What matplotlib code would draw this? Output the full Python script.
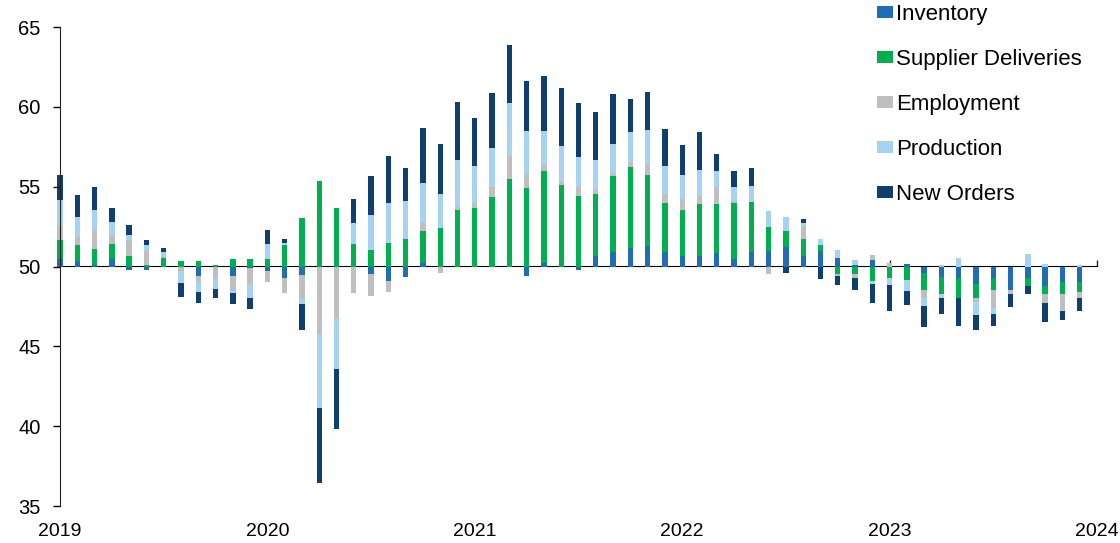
import numpy as np
import matplotlib
matplotlib.use("Agg")
import matplotlib.pyplot as plt
from matplotlib.patches import Patch

# monthly contributions (index points vs 50), Jan 2019 .. Dec 2023
year_labels = ["2019", "2020", "2021", "2022", "2023", "2024"]

inventory = [
    0.5, 0.35, 0.1, 0.45, -0.2, -0.2, 0.0, 0.0, -0.6, 0.0, -0.6, -0.1,
    -0.3, -0.7, -0.55, 0.0, 0.0, 0.0, -0.45, -0.9, -0.65, 0.2, 0.0, 0.0,
    0.0, 0.0, 0.0, -0.6, 0.2, 0.0, -0.25, 0.65, 0.9, 1.15, 1.3, 0.9,
    0.65, 0.65, 0.85, 0.45, 0.9, 1.0, 1.25, 0.65, 0.95, 0.55, 0.1, 0.4,
    0.0, 0.15, -0.4, -0.65, -0.75, -1.1, -0.75, -1.45, -0.75, -1.25, -1.0, -1.0,
]
supplier_deliveries = [
    1.15, 1.0, 1.0, 0.95, 0.65, 0.1, 0.55, 0.35, 0.35, 0.1, 0.45, 0.5,
    0.5, 1.35, 3.05, 5.35, 3.65, 1.4, 1.05, 1.5, 1.7, 2.05, 2.4, 3.55,
    3.65, 4.35, 5.5, 4.9, 5.75, 5.1, 4.4, 3.9, 4.75, 5.1, 4.45, 3.05,
    2.9, 3.25, 3.05, 3.5, 3.15, 1.5, 1.0, 1.05, 0.4, -0.5, -0.5, -0.9,
    -0.75, -0.85, -1.05, -1.1, -1.25, -0.85, -0.75, 0.0, -0.45, -0.45, -0.7, -0.6,
]
employment = [
    0.9, 0.5, 1.2, 0.55, 0.95, 0.85, 0.1, -0.3, -0.3, -0.7, -0.95, -1.0,
    -0.7, -0.95, -1.5, -4.25, -3.2, -1.65, -1.4, -0.7, 0.0, 0.5, -0.4, 0.2,
    0.3, 0.65, 1.4, 0.9, 0.4, 0.25, 0.6, 0.25, 0.2, 0.3, 0.7, 0.6,
    0.65, 0.5, 1.05, 0.15, 0.0, -0.45, 0.0, 0.85, 0.0, -0.1, -0.2, 0.3,
    0.25, 0.0, -0.5, 0.1, 0.0, -0.25, -1.1, -0.25, 0.0, -0.6, -1.0, -0.4,
]
production = [
    1.6, 1.25, 1.25, 0.85, 0.4, 0.4, 0.25, -0.75, -0.7, -0.7, -0.1, -0.85,
    0.9, 0.1, -0.3, -4.6, -3.25, 1.3, 2.2, 2.45, 2.4, 2.45, 2.15, 2.9,
    2.35, 2.45, 3.35, 2.7, 2.15, 2.2, 1.85, 1.85, 1.85, 1.9, 2.1, 1.75,
    1.5, 1.65, 1.05, 0.9, 1.0, 1.0, 0.85, 0.2, 0.4, 0.5, 0.3, -0.2,
    -0.4, -0.7, -0.5, -0.2, 0.55, -0.85, -0.4, 0.0, 0.8, 0.15, -0.1, 0.1,
]
new_orders = [
    1.6, 1.35, 1.45, 0.85, 0.6, 0.3, 0.25, -0.85, -0.7, -0.6, -0.7, -0.7,
    0.9, 0.3, -1.65, -4.7, -3.7, 1.55, 2.4, 3.0, 2.1, 3.5, 3.1, 3.65,
    3.0, 3.4, 3.6, 3.1, 3.4, 3.6, 3.4, 3.0, 3.1, 2.05, 2.35, 2.3,
    1.9, 2.4, 1.05, 1.0, 1.15, 0.0, -0.4, 0.25, -0.77, -0.55, -0.8, -1.2,
    -1.65, -0.85, -1.35, -1.05, -1.7, -0.95, -0.7, -0.85, -0.5, -1.15, -0.55, -0.8,
]

# stacked outward from the 50 line in this order
series = [
    ("Inventory", inventory, "#1F6DB5"),
    ("Supplier Deliveries", supplier_deliveries, "#00B050"),
    ("Employment", employment, "#BFBFBF"),
    ("Production", production, "#A7D3F3"),
    ("New Orders", new_orders, "#0F3F6E"),
]

plt.rcParams["font.family"] = ["Liberation Sans", "DejaVu Sans"]

fig = plt.figure(figsize=(11.2, 5.43), dpi=100)
ax = fig.add_axes([60 / 1120, 1 - 506 / 543, 1037 / 1120, 479 / 543])

months = np.arange(len(inventory))
top = np.full(len(months), 50.0)
low = np.full(len(months), 50.0)
for name, vals, color in series:
    v = np.asarray(vals)
    up = np.clip(v, 0, None)
    down = np.clip(v, None, 0)
    ax.bar(months, up, bottom=top, width=0.31, color=color, linewidth=0, clip_on=False)
    ax.bar(months, down, bottom=low, width=0.31, color=color, linewidth=0, clip_on=False)
    top += up
    low += down

year_pos = np.arange(len(year_labels)) * 12
ax.set_xlim(0, 60)
ax.set_ylim(35, 65)
ax.set_yticks(np.arange(35, 66, 5))
ax.tick_params(axis="y", length=5, width=1, pad=9, labelsize=14.5)
ax.set_xticks(year_pos)
ax.set_xticklabels(year_labels)
ax.tick_params(axis="x", length=0, pad=12, labelsize=14)

for side in ("top", "right", "bottom"):
    ax.spines[side].set_visible(False)
ax.spines["left"].set_color("#222222")

# the 50 line with year ticks hanging off it
base = ax.secondary_xaxis(0.5)
base.set_xticks(year_pos)
base.set_xticklabels([])
base.tick_params(direction="out", length=4, width=1, colors="#222222")
base.spines["bottom"].set_color("#222222")
base.spines["bottom"].set_linewidth(1.1)

handles = [Patch(facecolor=c, edgecolor="none", label=n) for n, _, c in series]
fig.legend(handles=handles, loc="upper left", bbox_to_anchor=(877 / 1120, 1 - 4 / 543),
           frameon=False, fontsize=16, labelspacing=1.08, handlelength=0.72,
           handleheight=0.5, handletextpad=0.15, borderpad=0, borderaxespad=0)

fig.savefig("out.png", dpi=100)
